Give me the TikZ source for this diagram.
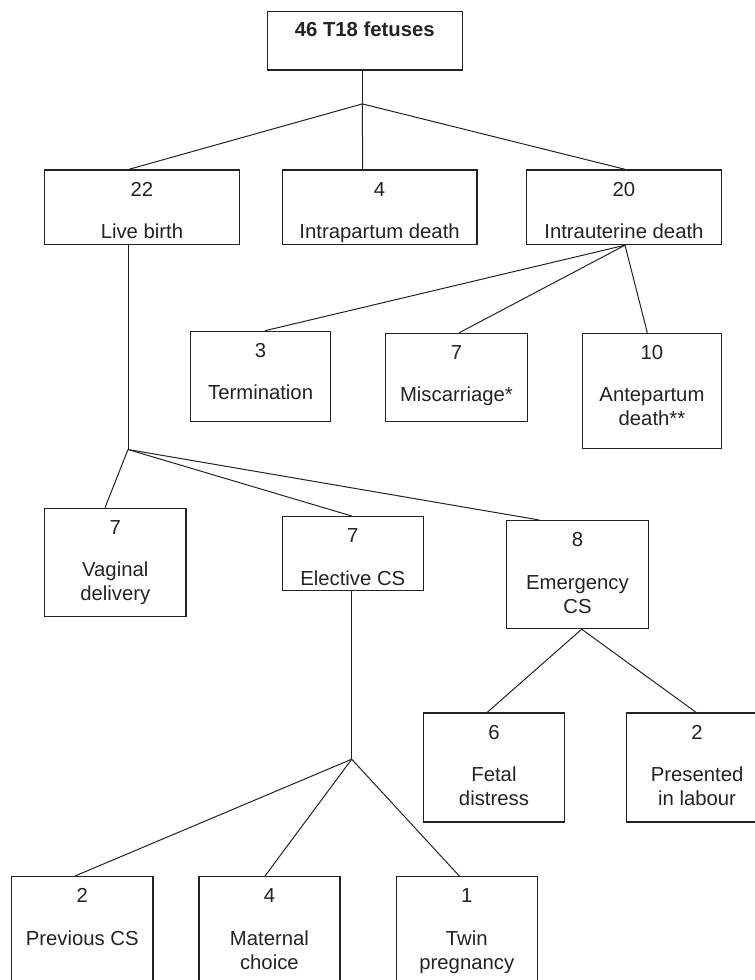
\documentclass[tikz,border=0pt]{standalone}
\usepackage{fontspec}
\setmainfont{Liberation Sans}
\usetikzlibrary{calc}
\definecolor{ink}{RGB}{35,35,35}
\begin{document}
\begin{tikzpicture}[x=1pt,y=-1pt,
  box/.style 2 args={draw=ink, line width=1.2pt, anchor=north west, inner sep=0pt,
    minimum width=#1, minimum height=#2},
  num/.style={anchor=base, text=ink, inner sep=0pt, font=\fontsize{20.3}{24}\selectfont},
  lbl/.style={anchor=base, align=center, text=ink, inner sep=0pt, font=\fontsize{20.3}{24}\selectfont},
  conn/.style={draw=ink, line width=1pt}]
\useasboundingbox (0,0) rectangle (755,980);
\fill[white] (0,0) rectangle (755,980);

% boxes
\node[box={195}{58.3}]  (root) at (266.7,11) {};
\node[box={194.7}{74.7}] (lb)  at (44,169.3) {};
\node[box={194.6}{74.7}] (ip)  at (281.7,169.3) {};
\node[box={194.7}{74.7}] (iu)  at (526,169.3) {};
\node[box={140}{90.3}]   (te)  at (190,330.7) {};
\node[box={141.7}{88.3}] (mi)  at (385,332.7) {};
\node[box={139.3}{115}]  (an)  at (581.7,332.7) {};
\node[box={141.3}{108.3}] (va) at (44,507.7) {};
\node[box={141}{74}]     (el)  at (281.7,516) {};
\node[box={141.7}{108}]  (em)  at (506,520) {};
\node[box={141.3}{109}]  (fd)  at (422.7,712.3) {};
\node[box={141}{109}]    (pl)  at (626,712.3) {};
\node[box={141.3}{110}]  (pc)  at (11,876) {};
\node[box={141}{110}]    (mc)  at (198.3,876) {};
\node[box={141}{110}]    (tw)  at (395.7,876) {};

% texts
\node[num,font=\fontsize{20.3}{24}\selectfont\bfseries] (root-t) at ($(root.north)+(0,25.7)$) {46 T18 fetuses};
\node[num] (lb-n) at ($(lb.north)+(0,26.7)$) {22};
\node[lbl] (lb-t) at ($(lb.north)+(0,69)$) {Live birth};
\node[num] (ip-n) at ($(ip.north)+(0,26.7)$) {4};
\node[lbl] (ip-t) at ($(ip.north)+(0,69)$) {Intrapartum death};
\node[num] (iu-n) at ($(iu.north)+(0,26.7)$) {20};
\node[lbl] (iu-t) at ($(iu.north)+(0,69)$) {Intrauterine death};
\node[num] (te-n) at ($(te.north)+(0,26.7)$) {3};
\node[lbl] (te-t) at ($(te.north)+(0,69)$) {Termination};
\node[num] (mi-n) at ($(mi.north)+(0,26.7)$) {7};
\node[lbl] (mi-t) at ($(mi.north)+(0,69)$) {Miscarriage*};
\node[num] (an-n) at ($(an.north)+(0,26.7)$) {10};
\node[lbl] (an-t) at ($(an.north)+(0,93)$) {Antepartum\\death**};
\node[num] (va-n) at ($(va.north)+(0,26.7)$) {7};
\node[lbl] (va-t) at ($(va.north)+(0,93)$) {Vaginal\\delivery};
\node[num] (el-n) at ($(el.north)+(0,26.7)$) {7};
\node[lbl] (el-t) at ($(el.north)+(0,69)$) {Elective CS};
\node[num] (em-n) at ($(em.north)+(0,26.7)$) {8};
\node[lbl] (em-t) at ($(em.north)+(0,93)$) {Emergency\\CS};
\node[num] (fd-n) at ($(fd.north)+(0,26.7)$) {6};
\node[lbl] (fd-t) at ($(fd.north)+(0,93)$) {Fetal\\distress};
\node[num] (pl-n) at ($(pl.north)+(0,26.7)$) {2};
\node[lbl] (pl-t) at ($(pl.north)+(0,93)$) {Presented\\in labour};
\node[num] (pc-n) at ($(pc.north)+(0,26.7)$) {2};
\node[lbl] (pc-t) at ($(pc.north)+(0,69)$) {Previous CS};
\node[num] (mc-n) at ($(mc.north)+(0,26.7)$) {4};
\node[lbl] (mc-t) at ($(mc.north)+(0,93)$) {Maternal\\choice};
\node[num] (tw-n) at ($(tw.north)+(0,26.7)$) {1};
\node[lbl] (tw-t) at ($(tw.north)+(0,93)$) {Twin\\pregnancy};

% attachment points
\coordinate (root-b) at ($(root.south west)+(95.6,0)$);
\coordinate (j0) at ($(root-b)+(0,33.4)$);
\coordinate (lb-top) at ($(lb.north west)+(85,0)$);
\coordinate (lb-bot) at ($(lb.south west)+(84,0)$);
\coordinate (ip-top) at ($(ip.north west)+(81,0)$);
\coordinate (iu-top) at ($(iu.north west)+(99,0)$);
\coordinate (iu-bot) at ($(iu.south west)+(99,0)$);
\coordinate (te-top) at ($(te.north west)+(75,0)$);
\coordinate (mi-top) at ($(mi.north west)+(74.3,0)$);
\coordinate (an-top) at ($(an.north west)+(65.6,0)$);
\coordinate (j1) at ($(lb-bot)+(0,204.3)$);
\coordinate (va-top) at ($(va.north west)+(61,0)$);
\coordinate (el-top) at ($(el.north west)+(70,0)$);
\coordinate (el-bot) at ($(el.south west)+(70,0)$);
\coordinate (em-top) at ($(em.north west)+(33.3,0)$);
\coordinate (em-bot) at ($(em.south west)+(75.7,0)$);
\coordinate (fd-top) at ($(fd.north west)+(64.6,0)$);
\coordinate (pl-top) at ($(pl.north west)+(70,0)$);
\coordinate (j2) at ($(el-bot)+(0,168)$);
\coordinate (pc-top) at ($(pc.north west)+(64,0)$);
\coordinate (mc-top) at ($(mc.north west)+(66.7,0)$);
\coordinate (tw-top) at ($(tw.north west)+(63.6,0)$);

% connectors
\path[conn] (root-b) -- (j0);
\path[conn] (j0) -- (lb-top);
\path[conn] (j0) -- (ip-top);
\path[conn] (j0) -- (iu-top);
\path[conn] (iu-bot) -- (te-top);
\path[conn] (iu-bot) -- (mi-top);
\path[conn] (iu-bot) -- (an-top);
\path[conn] (lb-bot) -- (j1);
\path[conn] (j1) -- (va-top);
\path[conn] (j1) -- (el-top);
\path[conn] (j1) -- (em-top);
\path[conn] (el-bot) -- (j2);
\path[conn] (j2) -- (pc-top);
\path[conn] (j2) -- (mc-top);
\path[conn] (j2) -- (tw-top);
\path[conn] (em-bot) -- (fd-top);
\path[conn] (em-bot) -- (pl-top);
\end{tikzpicture}
\end{document}
